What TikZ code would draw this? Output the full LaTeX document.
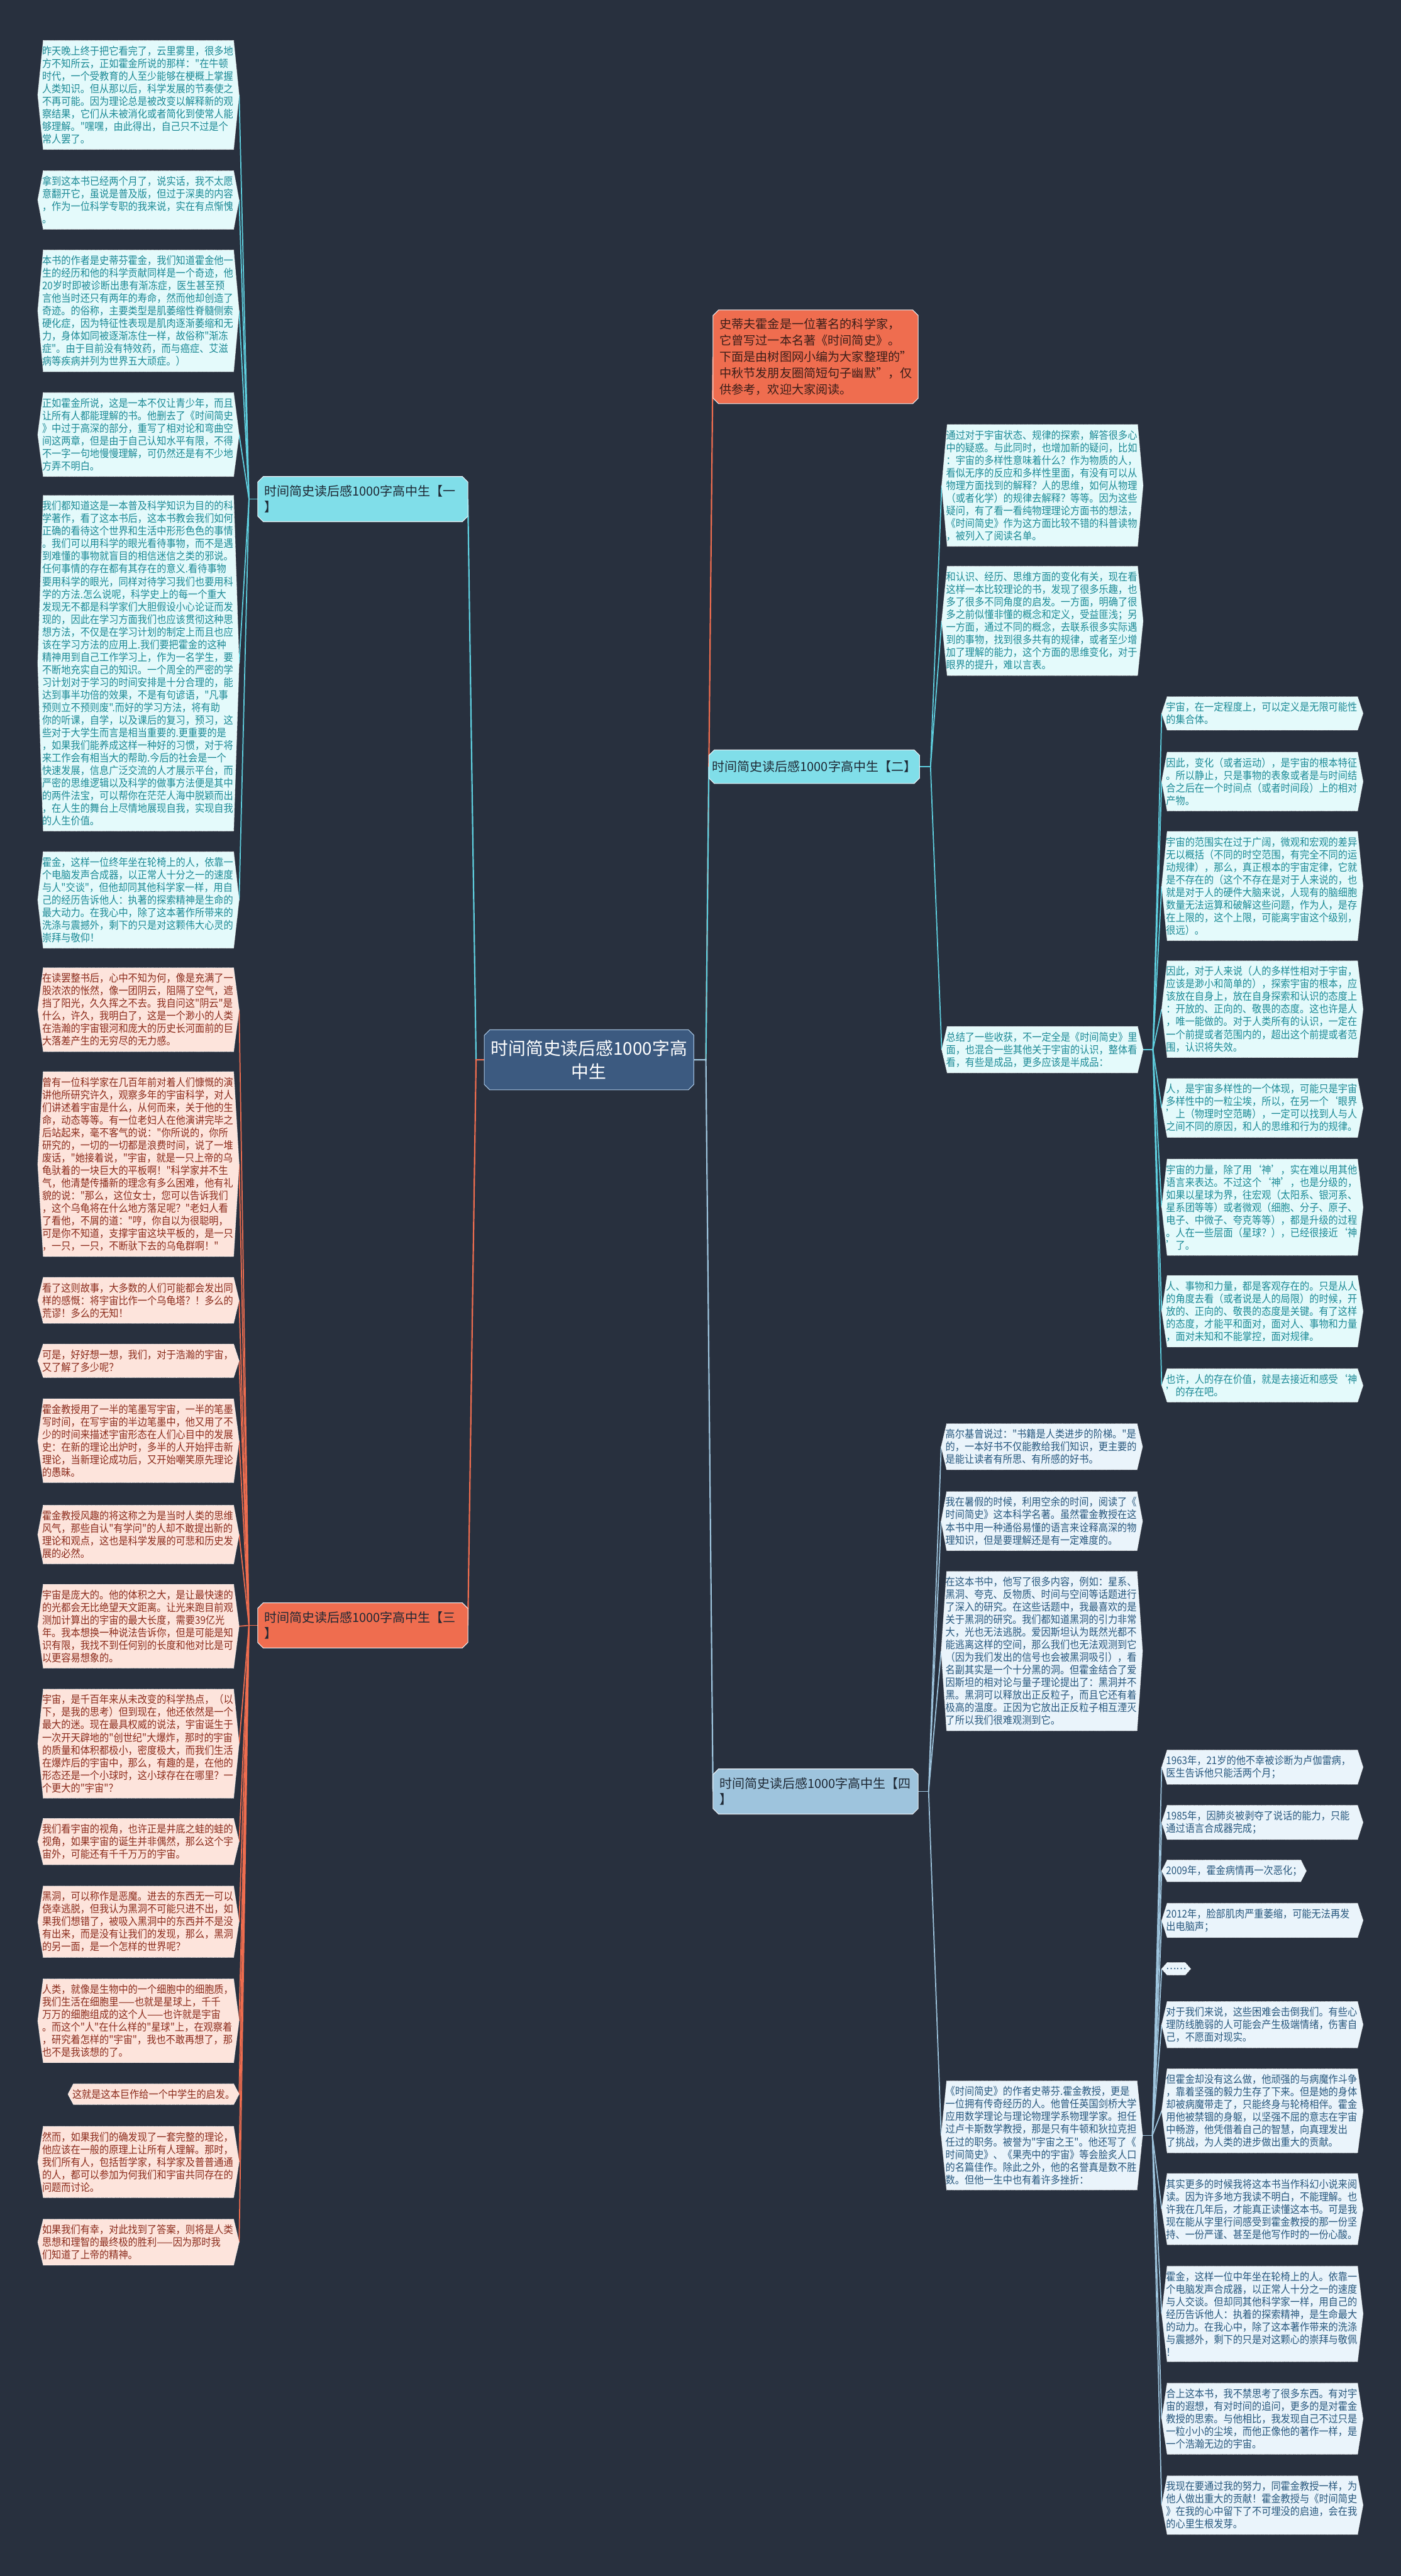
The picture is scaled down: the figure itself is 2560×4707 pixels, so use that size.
\documentclass[tikz,border=0pt]{standalone}
\usepackage{fontspec}
\setmainfont{Noto Sans CJK SC}
\newfontfamily\leaffont{Noto Sans CJK SC}[FakeStretch=0.9]
\usetikzlibrary{calc}
\pgfdeclarelayer{bg}
\pgfdeclarelayer{back}
\pgfsetlayers{bg,back,main}
\definecolor{bgc}{RGB}{40,48,62}
\definecolor{cyanB}{RGB}{128,222,233}
\definecolor{cyanL}{RGB}{95,208,224}
\definecolor{cyanF}{RGB}{228,250,251}
\definecolor{cyanT}{RGB}{28,138,150}
\definecolor{coralB}{RGB}{239,109,79}
\definecolor{pinkF}{RGB}{253,228,220}
\definecolor{pinkT}{RGB}{140,44,28}
\definecolor{blueB}{RGB}{158,196,221}
\definecolor{blueF}{RGB}{234,244,251}
\definecolor{blueT}{RGB}{40,88,126}
\definecolor{centF}{RGB}{60,90,128}
\definecolor{centD}{RGB}{170,200,230}
\definecolor{darkT}{RGB}{30,40,52}
\definecolor{topT}{RGB}{60,30,25}
\definecolor{edgeW}{RGB}{235,240,245}
\newcommand{\hexshape}[3]{%
  \filldraw[fill=#2, draw=#3, line width=1pt, dash pattern=on 1.2pt off 1.2pt]
  ($(#1.north west)+(10,0)$) -- ($(#1.north east)+(-10,0)$) -- (#1.east) --
  ($(#1.south east)+(-10,0)$) -- ($(#1.south west)+(10,0)$) -- (#1.west) -- cycle;}
\newcommand{\octshape}[4]{%
  \filldraw[fill=#2, draw=#3, line width=1.2pt]
  ($(#1.north west)+(#4,0)$) -- ($(#1.north east)+(-#4,0)$) -- ($(#1.north east)+(0,#4)$) --
  ($(#1.south east)+(0,-#4)$) -- ($(#1.south east)+(-#4,0)$) -- ($(#1.south west)+(#4,0)$) --
  ($(#1.south west)+(0,-#4)$) -- ($(#1.north west)+(0,#4)$) -- cycle;}
\tikzset{
  lf/.style={inner xsep=0pt, inner ysep=10pt, outer xsep=8pt, outer ysep=0pt, align=left, font=\leaffont\fontsize{19.4pt}{23pt}\selectfont},
  lfw/.style={lf, text width=352pt},
  cy/.style={text=cyanT}, pk/.style={text=pinkT}, bl/.style={text=blueT},
  br/.style={inner xsep=12pt, inner ysep=16pt, outer sep=0pt, text width=360pt, align=left, font=\fontsize{23pt}{29pt}\selectfont, text=darkT},
  ml/.style={line width=2.5pt}, ll/.style={line width=2pt}
}
\begin{document}
\begin{tikzpicture}[x=1pt,y=-1pt]
\useasboundingbox (0,0) rectangle (2560,4707);
\begin{pgfonlayer}{bg}\fill[bgc] (0,0) rectangle (2560,4707);\end{pgfonlayer}

% central and branches
\node[inner xsep=12pt, inner ysep=19pt, outer sep=0pt, text width=359pt, align=center, font=\fontsize{32pt}{42pt}\selectfont, text=white] (C) at (1076.5,1936.5) {时间简史读后感1000字高\\中生};
\node[inner xsep=12pt, inner ysep=15pt, outer sep=0pt, text width=351pt, align=left, font=\fontsize{22pt}{30pt}\selectfont, text=topT] (T) at (1490.5,652) {史蒂夫霍金是一位著名的科学家，\\它曾写过一本名著《时间简史》。\\下面是由树图网小编为大家整理的"\\中秋节发朋友圈简短句子幽默"，仅\\供参考，欢迎大家阅读。};
\node[br] (B1) at (663,912) {时间简史读后感1000字高中生【一\\】};
\node[br] (B3) at (663,2970) {时间简史读后感1000字高中生【三\\】};
\node[br, text width=351pt] (B4) at (1490.5,3273.5) {时间简史读后感1000字高中生【四\\】};
\node[inner xsep=6pt, inner ysep=20pt, outer sep=0pt, minimum width=384pt, font=\fontsize{23pt}{29pt}\selectfont, text=darkT] (B2) at (1488,1401) {时间简史读后感1000字高中生【二】};

% branch 1 leaves
\node[lfw, cy, anchor=east] (L1a) at (437,173.5) {昨天晚上终于把它看完了，云里雾里，很多地\\方不知所云，正如霍金所说的那样："在牛顿\\时代，一个受教育的人至少能够在梗概上掌握\\人类知识。但从那以后，科学发展的节奏使之\\不再可能。因为理论总是被改变以解释新的观\\察结果，它们从未被消化或者简化到使常人能\\够理解。"嘿嘿，由此得出，自己只不过是个\\常人罢了。};
\node[lfw, cy, anchor=east] (L1b) at (437,365.5) {拿到这本书已经两个月了，说实话，我不太愿\\意翻开它，虽说是普及版，但过于深奥的内容\\，作为一位科学专职的我来说，实在有点惭愧\\。};
\node[lfw, cy, anchor=east] (L1c) at (437,568) {本书的作者是史蒂芬霍金，我们知道霍金他一\\生的经历和他的科学贡献同样是一个奇迹，他\\20岁时即被诊断出患有渐冻症，医生甚至预\\言他当时还只有两年的寿命，然而他却创造了\\奇迹。的俗称，主要类型是肌萎缩性脊髓侧索\\硬化症，因为特征性表现是肌肉逐渐萎缩和无\\力，身体如同被逐渐冻住一样，故俗称"渐冻\\症"。由于目前没有特效药，而与癌症、艾滋\\病等疾病并列为世界五大顽症。）};
\node[lfw, cy, anchor=east] (L1d) at (437,794) {正如霍金所说，这是一本不仅让青少年，而且\\让所有人都能理解的书。他删去了《时间简史\\》中过于高深的部分，重写了相对论和弯曲空\\间这两章，但是由于自己认知水平有限，不得\\不一字一句地慢慢理解，可仍然还是有不少地\\方弄不明白。};
\node[lfw, cy, anchor=east] (L1e) at (437,1212) {我们都知道这是一本普及科学知识为目的的科\\学著作，看了这本书后，这本书教会我们如何\\正确的看待这个世界和生活中形形色色的事情\\。我们可以用科学的眼光看待事物，而不是遇\\到难懂的事物就盲目的相信迷信之类的邪说。\\任何事情的存在都有其存在的意义.看待事物\\要用科学的眼光，同样对待学习我们也要用科\\学的方法.怎么说呢，科学史上的每一个重大\\发现无不都是科学家们大胆假设小心论证而发\\现的，因此在学习方面我们也应该贯彻这种思\\想方法，不仅是在学习计划的制定上而且也应\\该在学习方法的应用上.我们要把霍金的这种\\精神用到自己工作学习上，作为一名学生，要\\不断地充实自己的知识。一个周全的严密的学\\习计划对于学习的时间安排是十分合理的，能\\达到事半功倍的效果，不是有句谚语，"凡事\\预则立不预则废".而好的学习方法，将有助\\你的听课，自学，以及课后的复习，预习，这\\些对于大学生而言是相当重要的.更重要的是\\，如果我们能养成这样一种好的习惯，对于将\\来工作会有相当大的帮助.今后的社会是一个\\快速发展，信息广泛交流的人才展示平台，而\\严密的思维逻辑以及科学的做事方法便是其中\\的两件法宝，可以帮你在茫茫人海中脱颖而出\\，在人生的舞台上尽情地展现自我，实现自我\\的人生价值。};
\node[lfw, cy, anchor=east] (L1f) at (437,1644.5) {霍金，这样一位终年坐在轮椅上的人，依靠一\\个电脑发声合成器，以正常人十分之一的速度\\与人"交谈"，但他却同其他科学家一样，用自\\己的经历告诉他人：执著的探索精神是生命的\\最大动力。在我心中，除了这本著作所带来的\\洗涤与震撼外，剩下的只是对这颗伟大心灵的\\崇拜与敬仰！};

% branch 3 leaves
\node[lfw, pk, anchor=east] (L3a) at (437,1845) {在读罢整书后，心中不知为何，像是充满了一\\股浓浓的怅然，像一团阴云，阻隔了空气，遮\\挡了阳光，久久挥之不去。我自问这"阴云"是\\什么，许久，我明白了，这是一个渺小的人类\\在浩瀚的宇宙银河和庞大的历史长河面前的巨\\大落差产生的无穷尽的无力感。};
\node[lfw, pk, anchor=east] (L3b) at (437,2127) {曾有一位科学家在几百年前对着人们慷慨的演\\讲他所研究许久，观察多年的宇宙科学，对人\\们讲述着宇宙是什么，从何而来，关于他的生\\命，动态等等。有一位老妇人在他演讲完毕之\\后站起来，毫不客气的说："你所说的，你所\\研究的，一切的一切都是浪费时间，说了一堆\\废话，"她接着说，"宇宙，就是一只上帝的乌\\龟驮着的一块巨大的平板啊！"科学家并不生\\气，他清楚传播新的理念有多么困难，他有礼\\貌的说："那么，这位女士，您可以告诉我们\\，这个乌龟将在什么地方落足呢？"老妇人看\\了看他，不屑的道："哼，你自以为很聪明，\\可是你不知道，支撑宇宙这块平板的，是一只\\，一只，一只，不断驮下去的乌龟群啊！"};
\node[lfw, pk, anchor=east] (L3c) at (437,2376) {看了这则故事，大多数的人们可能都会发出同\\样的感慨：将宇宙比作一个乌龟塔？！多么的\\荒谬！多么的无知！};
\node[lfw, pk, anchor=east] (L3d) at (437,2486.5) {可是，好好想一想，我们，对于浩瀚的宇宙，\\又了解了多少呢？};
\node[lfw, pk, anchor=east] (L3e) at (437,2632.5) {霍金教授用了一半的笔墨写宇宙，一半的笔墨\\写时间，在写宇宙的半边笔墨中，他又用了不\\少的时间来描述宇宙形态在人们心目中的发展\\史：在新的理论出炉时，多半的人开始抨击新\\理论，当新理论成功后，又开始嘲笑原先理论\\的愚昧。};
\node[lfw, pk, anchor=east] (L3f) at (437,2804) {霍金教授风趣的将这称之为是当时人类的思维\\风气，那些自认"有学问"的人却不敢提出新的\\理论和观点，这也是科学发展的可悲和历史发\\展的必然。};
\node[lfw, pk, anchor=east] (L3g) at (437,2971.5) {宇宙是庞大的。他的体积之大，是让最快速的\\的光都会无比绝望天文距离。让光来跑目前观\\测加计算出的宇宙的最大长度，需要39亿光\\年。我本想换一种说法告诉你，但是可能是知\\识有限，我找不到任何别的长度和他对比是可\\以更容易想象的。};
\node[lfw, pk, anchor=east] (L3h) at (437,3186) {宇宙，是千百年来从未改变的科学热点，（以\\下，是我的思考）但到现在，他还依然是一个\\最大的迷。现在最具权威的说法，宇宙诞生于\\一次开天辟地的"创世纪"大爆炸，那时的宇宙\\的质量和体积都极小，密度极大，而我们生活\\在爆炸后的宇宙中，那么，有趣的是，在他的\\形态还是一个小球时，这小球存在在哪里？一\\个更大的"宇宙"？};
\node[lfw, pk, anchor=east] (L3i) at (437,3365) {我们看宇宙的视角，也许正是井底之蛙的蛙的\\视角，如果宇宙的诞生并非偶然，那么这个宇\\宙外，可能还有千千万万的宇宙。};
\node[lfw, pk, anchor=east] (L3j) at (437,3511.5) {黑洞，可以称作是恶魔。进去的东西无一可以\\侥幸逃脱，但我认为黑洞不可能只进不出，如\\果我们想错了，被吸入黑洞中的东西并不是没\\有出来，而是没有让我们的发现，那么，黑洞\\的另一面，是一个怎样的世界呢？};
\node[lfw, pk, anchor=east] (L3k) at (437,3692.5) {人类，就像是生物中的一个细胞中的细胞质，\\我们生活在细胞里——也就是星球上，千千\\万万的细胞组成的这个人——也许就是宇宙\\。而这个"人"在什么样的"星球"上，在观察着\\，研究着怎样的"宇宙"，我也不敢再想了，那\\也不是我该想的了。};
\node[lf, pk, anchor=east] (L3l) at (437,3826.5) {这就是这本巨作给一个中学生的启发。};
\node[lfw, pk, anchor=east] (L3m) at (437,3950.5) {然而，如果我们的确发现了一套完整的理论，\\他应该在一般的原理上让所有人理解。那时，\\我们所有人，包括哲学家，科学家及普普通通\\的人，都可以参加为何我们和宇宙共同存在的\\问题而讨论。};
\node[lfw, pk, anchor=east] (L3n) at (437,4097) {如果我们有幸，对此找到了答案，则将是人类\\思想和理智的最终极的胜利——因为那时我\\们知道了上帝的精神。};

% branch 2 leaves
\node[lfw, cy, anchor=west] (B2a) at (1721,887) {通过对于宇宙状态、规律的探索，解答很多心\\中的疑惑。与此同时，也增加新的疑问，比如\\：宇宙的多样性意味着什么？作为物质的人，\\看似无序的反应和多样性里面，有没有可以从\\物理方面找到的解释？人的思维，如何从物理\\（或者化学）的规律去解释？等等。因为这些\\疑问，有了看一看纯物理理论方面书的想法，\\《时间简史》作为这方面比较不错的科普读物\\，被列入了阅读名单。};
\node[lfw, cy, anchor=west] (B2b) at (1721,1134.5) {和认识、经历、思维方面的变化有关，现在看\\这样一本比较理论的书，发现了很多乐趣，也\\多了很多不同角度的启发。一方面，明确了很\\多之前似懂非懂的概念和定义，受益匪浅；另\\一方面，通过不同的概念，去联系很多实际遇\\到的事物，找到很多共有的规律，或者至少增\\加了理解的能力，这个方面的思维变化，对于\\眼界的提升，难以言表。};
\node[lfw, cy, anchor=west] (B2c) at (1721,1918) {总结了一些收获，不一定全是《时间简史》里\\面，也混合一些其他关于宇宙的认识，整体看\\看，有些是成品，更多应该是半成品：};
\node[lfw, cy, anchor=west] (S2a) at (2123,1303.5) {宇宙，在一定程度上，可以定义是无限可能性\\的集合体。};
\node[lfw, cy, anchor=west] (S2b) at (2123,1428) {因此，变化（或者运动），是宇宙的根本特征\\。所以静止，只是事物的表象或者是与时间结\\合之后在一个时间点（或者时间段）上的相对\\产物。};
\node[lfw, cy, anchor=west] (S2c) at (2123,1619) {宇宙的范围实在过于广阔，微观和宏观的差异\\无以概括（不同的时空范围，有完全不同的运\\动规律），那么，真正根本的宇宙定律，它就\\是不存在的（这个不存在是对于人来说的，也\\就是对于人的硬件大脑来说，人现有的脑细胞\\数量无法运算和破解这些问题，作为人，是存\\在上限的，这个上限，可能离宇宙这个级别，\\很远）。};
\node[lfw, cy, anchor=west] (S2d) at (2123,1844) {因此，对于人来说（人的多样性相对于宇宙，\\应该是渺小和简单的），探索宇宙的根本，应\\该放在自身上，放在自身探索和认识的态度上\\：开放的、正向的、敬畏的态度。这也许是人\\，唯一能做的。对于人类所有的认识，一定在\\一个前提或者范围内的，超出这个前提或者范\\围，认识将失效。};
\node[lfw, cy, anchor=west] (S2f) at (2123,2024.5) {人，是宇宙多样性的一个体现，可能只是宇宙\\多样性中的一粒尘埃，所以，在另一个‘眼界\\’上（物理时空范畴），一定可以找到人与人\\之间不同的原因，和人的思维和行为的规律。};
\node[lfw, cy, anchor=west] (S2g) at (2123,2206) {宇宙的力量，除了用‘神’，实在难以用其他\\语言来表达。不过这个‘神’，也是分级的，\\如果以星球为界，往宏观（太阳系、银河系、\\星系团等等）或者微观（细胞、分子、原子、\\电子、中微子、夸克等等），都是升级的过程\\。人在一些层面（星球？），已经很接近‘神\\’了。};
\node[lfw, cy, anchor=west] (S2h) at (2123,2396) {人、事物和力量，都是客观存在的。只是从人\\的角度去看（或者说是人的局限）的时候，开\\放的、正向的、敬畏的态度是关键。有了这样\\的态度，才能平和面对，面对人、事物和力量\\，面对未知和不能掌控，面对规律。};
\node[lfw, cy, anchor=west] (S2i) at (2123,2531.5) {也许，人的存在价值，就是去接近和感受‘神\\’的存在吧。};

% branch 4 leaves
\node[lfw, bl, anchor=west] (B4a) at (1720,2643.5) {高尔基曾说过："书籍是人类进步的阶梯。"是\\的，一本好书不仅能教给我们知识，更主要的\\是能让读者有所思、有所感的好书。};
\node[lfw, bl, anchor=west] (B4b) at (1720,2779.5) {我在暑假的时候，利用空余的时间，阅读了《\\时间简史》这本科学名著。虽然霍金教授在这\\本书中用一种通俗易懂的语言来诠释高深的物\\理知识，但是要理解还是有一定难度的。};
\node[lfw, bl, anchor=west] (B4c) at (1720,3017) {在这本书中，他写了很多内容，例如：星系、\\黑洞、夸克、反物质、时间与空间等话题进行\\了深入的研究。在这些话题中，我最喜欢的是\\关于黑洞的研究。我们都知道黑洞的引力非常\\大，光也无法逃脱。爱因斯坦认为既然光都不\\能逃离这样的空间，那么我们也无法观测到它\\（因为我们发出的信号也会被黑洞吸引），看\\名副其实是一个十分黑的洞。但霍金结合了爱\\因斯坦的相对论与量子理论提出了：黑洞并不\\黑。黑洞可以释放出正反粒子，而且它还有着\\极高的温度。正因为它放出正反粒子相互湮灭\\了所以我们很难观测到它。};
\node[lfw, bl, anchor=west] (B4d) at (1720,3902) {《时间简史》的作者史蒂芬.霍金教授，更是\\一位拥有传奇经历的人。他曾任英国剑桥大学\\应用数学理论与理论物理学系物理学家。担任\\过卢卡斯数学教授，那是只有牛顿和狄拉克担\\任过的职务。被誉为"宇宙之王"。他还写了《\\时间简史》、《果壳中的宇宙》等会脍炙人口\\的名篇佳作。除此之外，他的名誉真是数不胜\\数。但他一生中也有着许多挫折：};
\node[lfw, bl, anchor=west] (S4a) at (2123,3229) {1963年，21岁的他不幸被诊断为卢伽雷病，\\医生告诉他只能活两个月；};
\node[lfw, bl, anchor=west] (S4b) at (2123,3330) {1985年，因肺炎被剥夺了说话的能力，只能\\通过语言合成器完成；};
\node[lf, bl, anchor=west] (S4c) at (2123,3418.5) {2009年，霍金病情再一次恶化；};
\node[lfw, bl, anchor=west] (S4d) at (2123,3509) {2012年，脸部肌肉严重萎缩，可能无法再发\\出电脑声；};
\node[lf, bl, anchor=west] (S4e) at (2123,3597.5) {……};
\node[lfw, bl, anchor=west] (S4f) at (2123,3699.5) {对于我们来说，这些困难会击倒我们。有些心\\理防线脆弱的人可能会产生极端情绪，伤害自\\己，不愿面对现实。};
\node[lfw, bl, anchor=west] (S4g) at (2123,3857) {但霍金却没有这么做，他顽强的与病魔作斗争\\，靠着坚强的毅力生存了下来。但是她的身体\\却被病魔带走了，只能终身与轮椅相伴。霍金\\用他被禁锢的身躯，以坚强不屈的意志在宇宙\\中畅游，他凭借着自己的智慧，向真理发出\\了挑战，为人类的进步做出重大的贡献。};
\node[lfw, bl, anchor=west] (S4h) at (2123,4036.5) {其实更多的时候我将这本书当作科幻小说来阅\\读。因为许多地方我读不明白，不能理解。也\\许我在几年后，才能真正读懂这本书。可是我\\现在能从字里行间感受到霍金教授的那一份坚\\持、一份严谨、甚至是他写作时的一份心酸。};
\node[lfw, bl, anchor=west] (S4i) at (2123,4228) {霍金，这样一位中年坐在轮椅上的人。依靠一\\个电脑发声合成器，以正常人十分之一的速度\\与人交谈。但却同其他科学家一样，用自己的\\经历告诉他人：执着的探索精神，是生命最大\\的动力。在我心中，除了这本著作带来的洗涤\\与震撼外，剩下的只是对这颗心的崇拜与敬佩\\！};
\node[lfw, bl, anchor=west] (S4j) at (2123,4419.5) {合上这本书，我不禁思考了很多东西。有对宇\\宙的遐想，有对时间的追问，更多的是对霍金\\教授的思索。与他相比，我发现自己不过只是\\一粒小小的尘埃，而他正像他的著作一样，是\\一个浩瀚无边的宇宙。};
\node[lfw, bl, anchor=west] (S4k) at (2123,4577.5) {我现在要通过我的努力，同霍金教授一样，为\\他人做出重大的贡献！霍金教授与《时间简史\\》在我的心中留下了不可埋没的启迪，会在我\\的心里生根发芽。};

\begin{pgfonlayer}{back}
  \coordinate (hCR) at ($(C.east)+(22,0)$);
  \coordinate (hCL) at ($(C.west)+(-15,0)$);
  \coordinate (hB1) at ($(B1.west)+(-16,0)$);
  \coordinate (hB3) at ($(B3.west)+(-16,0)$);
  \coordinate (hB2) at ($(B2.east)+(20,0)$);
  \coordinate (hB4) at ($(B4.east)+(19,0)$);
  \coordinate (hS2) at ($(B2c.east)+(18,0)$);
  \coordinate (hS4) at ($(B4d.east)+(18,0)$);
  % main connectors
  \draw[ml, coralB] (C.east) -- (hCR) -- (T.west);
  \draw[ml, cyanL] (C.east) -- (hCR) -- (B2.west);
  \draw[ml, blueB] (C.east) -- (hCR) -- (B4.west);
  \draw[ml, cyanL] (C.west) -- (hCL) -- (B1.east);
  \draw[ml, coralB] (C.west) -- (hCL) -- (B3.east);
  % leaf connectors
  \draw[ll, cyanL] (B1.west) -- (hB1);
  \foreach \n in {L1a,L1b,L1c,L1d,L1e,L1f} {\draw[ll, cyanL] (hB1) -- (\n.east);}
  \draw[ll, coralB] (B3.west) -- (hB3);
  \foreach \n in {L3a,L3b,L3c,L3d,L3e,L3f,L3g,L3h,L3i,L3j,L3k,L3l,L3m,L3n} {\draw[ll, coralB] (hB3) -- (\n.east);}
  \draw[ll, cyanL] (B2.east) -- (hB2);
  \foreach \n in {B2a,B2b,B2c} {\draw[ll, cyanL] (hB2) -- (\n.west);}
  \draw[ll, cyanL] (B2c.east) -- (hS2);
  \foreach \n in {S2a,S2b,S2c,S2d,S2f,S2g,S2h,S2i} {\draw[ll, cyanL] (hS2) -- (\n.west);}
  \draw[ll, blueB] (B4.east) -- (hB4);
  \foreach \n in {B4a,B4b,B4c,B4d} {\draw[ll, blueB] (hB4) -- (\n.west);}
  \draw[ll, blueB] (B4d.east) -- (hS4);
  \foreach \n in {S4a,S4b,S4c,S4d,S4e,S4f,S4g,S4h,S4i,S4j,S4k} {\draw[ll, blueB] (hS4) -- (\n.west);}
  % shapes
  \octshape{C}{centF}{centD}{10}
  \octshape{T}{coralB}{edgeW}{10}
  \octshape{B1}{cyanB}{edgeW}{10}
  \octshape{B2}{cyanB}{edgeW}{10}
  \octshape{B3}{coralB}{edgeW}{10}
  \octshape{B4}{blueB}{edgeW}{10}
  \foreach \n in {L1a,L1b,L1c,L1d,L1e,L1f,B2a,B2b,B2c,S2a,S2b,S2c,S2d,S2f,S2g,S2h,S2i} {\hexshape{\n}{cyanF}{white}}
  \foreach \n in {L3a,L3b,L3c,L3d,L3e,L3f,L3g,L3h,L3i,L3j,L3k,L3l,L3m,L3n} {\hexshape{\n}{pinkF}{white}}
  \foreach \n in {B4a,B4b,B4c,B4d,S4a,S4b,S4c,S4d,S4e,S4f,S4g,S4h,S4i,S4j,S4k} {\hexshape{\n}{blueF}{white}}
\end{pgfonlayer}
\end{tikzpicture}
\end{document}
